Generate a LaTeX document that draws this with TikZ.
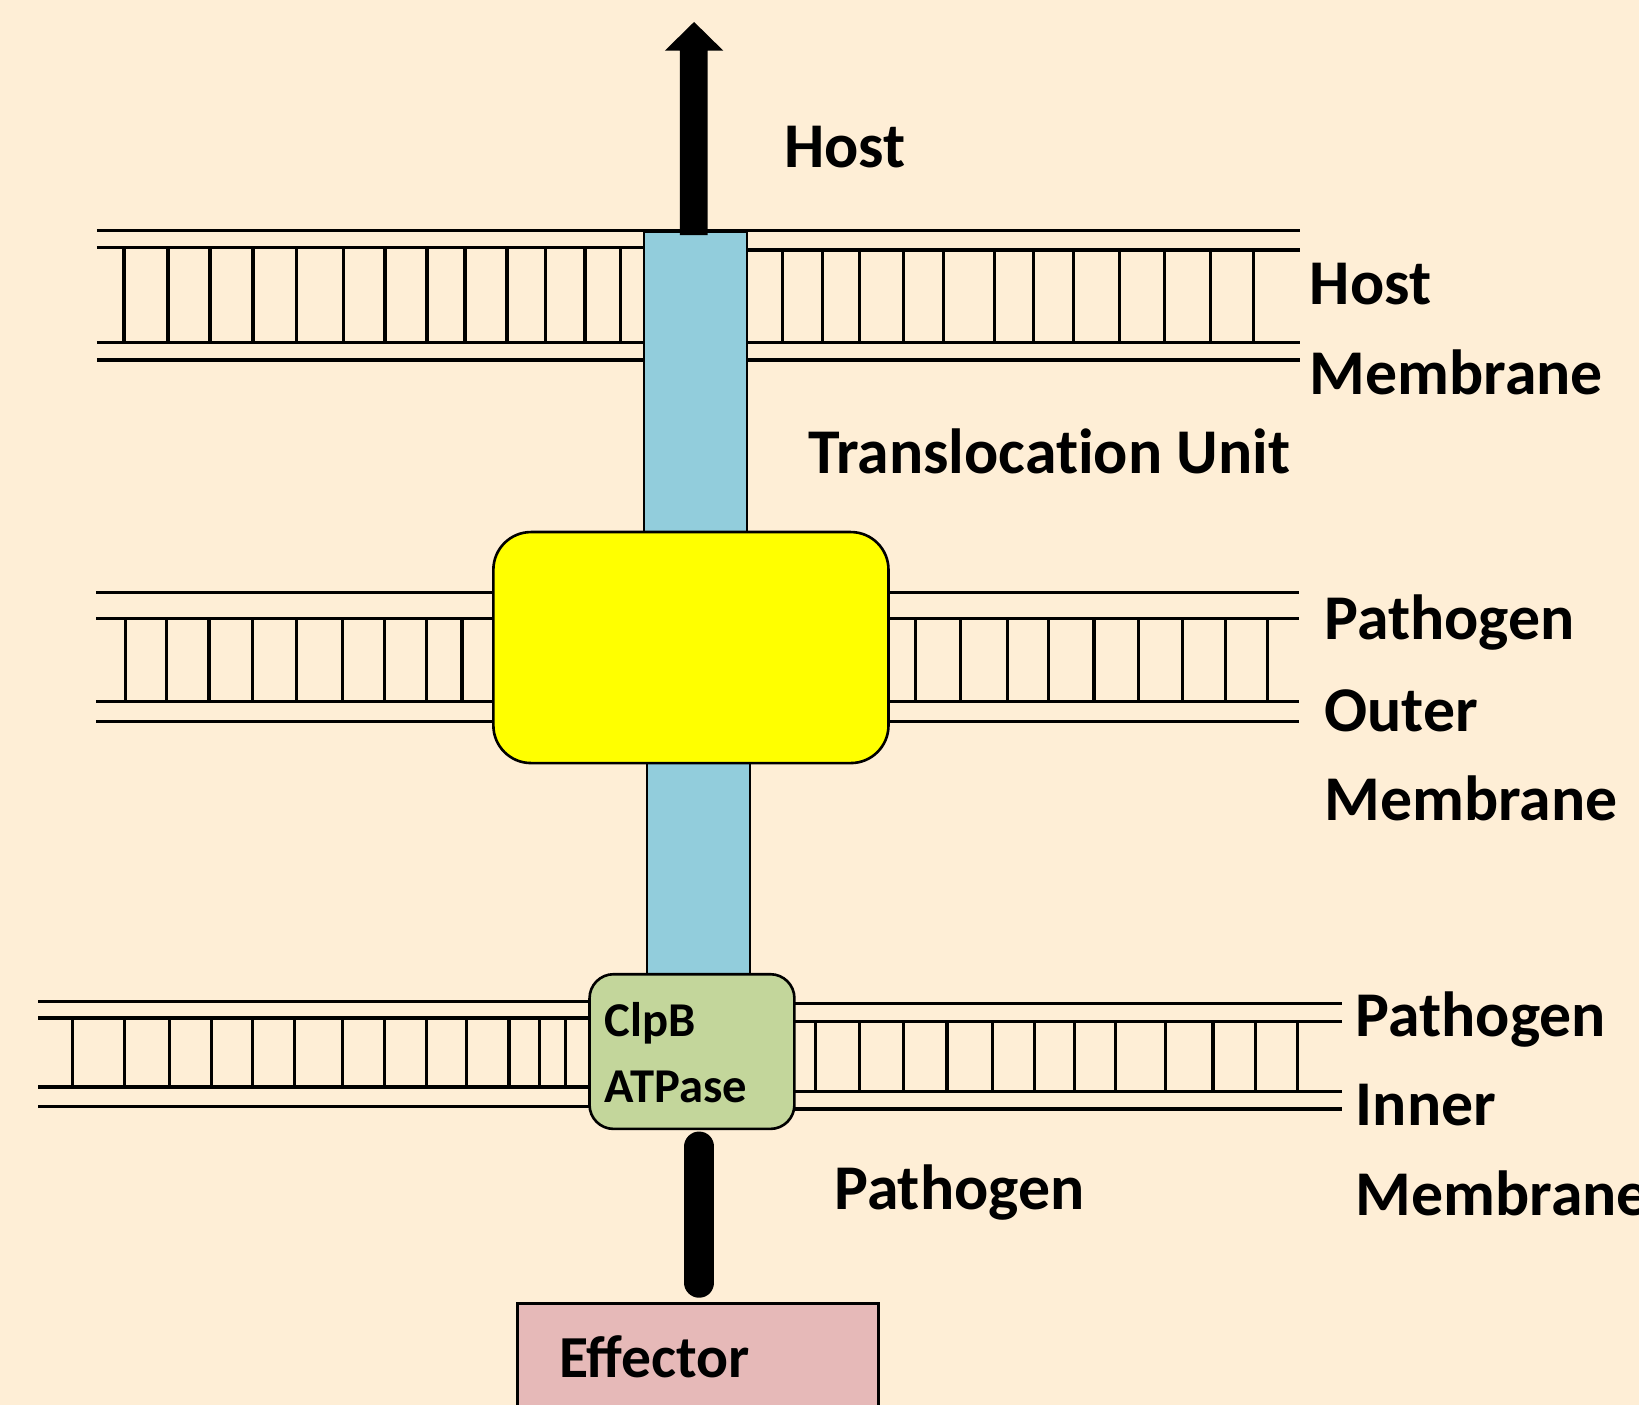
\documentclass[tikz,border=0pt]{standalone}
\usepackage{fontspec}
\setmainfont{Carlito}
\newfontfamily\noligafont{Carlito}[RawFeature={-liga;-clig;-calt;-dlig}]
\usetikzlibrary{calc}
\definecolor{bgc}{RGB}{254,238,214}
\definecolor{chanblue}{RGB}{146,205,220}
\definecolor{tuyellow}{RGB}{255,255,0}
\definecolor{clpbgreen}{RGB}{195,214,155}
\definecolor{effpink}{RGB}{230,185,184}
\begin{document}
\begin{tikzpicture}[x=1pt,y=-1pt,
  mline/.style={line width=3.3pt},
  tickline/.style={line width=3pt},
  chan/.style={draw=black, line width=1.2pt, fill=chanblue, inner sep=0pt},
  tubox/.style={draw=black, line width=2.5pt, fill=tuyellow, rounded corners=36pt, inner sep=0pt},
  clpbbox/.style={draw=black, line width=2.5pt, fill=clpbgreen, rounded corners=23pt, inner sep=0pt},
  effbox/.style={draw=black, line width=2.5pt, fill=effpink, inner sep=0pt},
  lbl/.style={anchor=base west, inner sep=0pt, font=\fontsize{61}{72}\selectfont\bfseries},
  slbl/.style={anchor=base west, inner sep=0pt, font=\fontsize{46.5}{55}\selectfont\bfseries},
  elbl/.style={anchor=base west, inner sep=0pt, font=\fontsize{57}{68}\selectfont\bfseries}]
\fill[bgc] (0,0) rectangle (1568,1344);
\useasboundingbox (0,0) rectangle (1568,1344);

% ---- Host membrane ----
\draw[mline] (92.6,220.7) -- (1244,220.7);
\draw[mline] (92.6,236.6) -- (616,236.6);
\draw[mline] (92.6,327.8) -- (616,327.8);
\draw[mline] (92.6,344.4) -- (616,344.4);
\draw[mline] (714.6,239) -- (1244,239);
\draw[mline] (714.6,327.8) -- (1244,327.8);
\draw[mline] (714.6,344.4) -- (1244,344.4);
\foreach \x in {118.6,160.7,200.9,242,284,329,368.3,408.5,444.8,485,522,559.6,594}
  \draw[tickline] (\x,237) -- (\x,327);
\foreach \x in {749,787,822,864.5,903,951,989,1027,1071,1114,1158,1199}
  \draw[tickline] (\x,239) -- (\x,327);

% ---- Pathogen outer membrane ----
\foreach \y in {566.7,591.5,670.9,690}{
  \draw[mline] (92,\y) -- (472,\y);
  \draw[mline] (850,\y) -- (1243,\y);}
\foreach \x in {119.7,159,200,241.6,284,328,368,408,442}
  \draw[tickline] (\x,591.5) -- (\x,671);
\foreach \x in {875.7,919,964,1003,1046.6,1089,1131,1172,1212.8}
  \draw[tickline] (\x,591.5) -- (\x,671);

% ---- Pathogen inner membrane ----
\foreach \y in {958.3,974,1040,1058.7}
  \draw[mline] (36.8,\y) -- (564,\y);
\foreach \y in {960,977,1044,1061}
  \draw[mline] (760,\y) -- (1283.5,\y);
\foreach \x in {69.7,119.2,162,202,241.6,281.7,327.9,368,408,446.5,487,516,541}
  \draw[tickline] (\x,974) -- (\x,1040);
\foreach \x in {780,822,864,906,949.6,990,1028,1067.5,1114.7,1160.4,1201,1241.6}
  \draw[tickline] (\x,977) -- (\x,1044);

% ---- Channel, boxes ----
\node[chan, minimum width=98.6pt, minimum height=288pt] (chan1) at (665.3,366) {};
\node[chan, minimum width=98.6pt, minimum height=203pt] (chan2) at (668.3,831) {};
\node[tubox, minimum width=378pt, minimum height=221pt] (tu) at (661,619.5) {};
\node[clpbbox, minimum width=196pt, minimum height=148pt] (clpb) at (662,1006) {};
\node[effbox, minimum width=345pt, minimum height=130pt, anchor=north] (effector) at (667.75,1245.6) {};

% ---- Arrow into host ----
\coordinate (hosttip) at (664,21);
\fill[black] (650.5,225) -- (650.5,48.5) -- (636,48.5) -- (hosttip) -- (692,48.5) -- (677,48.5) -- (677,225) -- cycle;

% ---- Bar from effector to ClpB ----
\coordinate (barbot) at (669,1227);
\coordinate (bartop) at (669,1097);
\draw[line width=29pt, line cap=round] (barbot) -- (bartop);

% ---- Labels ----
\node[lbl] (thost) at (750,160) {Host};
\node[lbl] (thm1) at (1253,291) {Host};
\node[lbl] (thm2) at (1253,377) {Membrane};
\node[lbl] (ttu) at (773,453) {\noligafont\bfseries Translocation Unit};
\node[lbl] (tpo1) at (1267,612) {Pathogen};
\node[lbl] (tpo2) at (1267,700) {Outer};
\node[lbl] (tpo3) at (1267,785) {Membrane};
\node[lbl] (tpi1) at (1297,992) {Pathogen};
\node[lbl] (tpi2) at (1297,1077) {Inner};
\node[lbl] (tpi3) at (1297,1163) {Membrane};
\node[lbl] (tpath) at (798,1157) {Pathogen};
\node[slbl] (tclpb) at (578,992) {ClpB};
\node[slbl] (tatp) at (578,1055) {ATPase};
\node[elbl] (teff) at (535,1318) {Effector};
\end{tikzpicture}
\end{document}
